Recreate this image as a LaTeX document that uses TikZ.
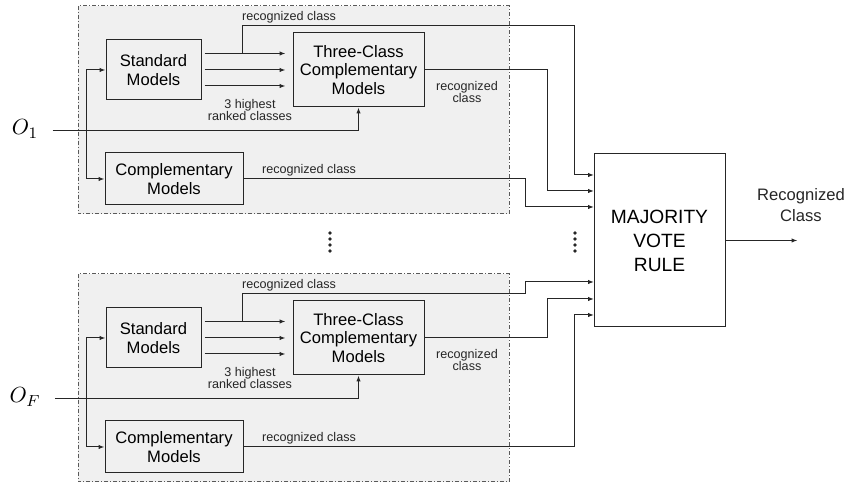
\documentclass[tikz,border=0pt]{standalone}
\usepackage[no-math]{fontspec}
\setmainfont{Liberation Sans}
\usetikzlibrary{arrows.meta}

\begin{document}
\begin{tikzpicture}[x=0.5pt,y=-0.5pt,line width=0.5pt,
  >={Latex[length=3pt,width=2.2pt]},
  model/.style={draw=black!85,align=center,inner sep=0pt,font=\fontsize{8.3}{9.3}\selectfont},
  lbl/.style={align=center,inner sep=0pt,text=black!85,font=\fontsize{6.3}{6.4}\selectfont},
  wire/.style={draw=black!85},
  group/.style={draw=black!65,fill=black!6,dash pattern=on 2pt off 1pt on 0.5pt off 1pt}]
  \useasboundingbox (0,0) rectangle (848,485);
  % majority vote block
  \node[model,minimum width=65.5pt,minimum height=86.5pt,font=\fontsize{9.6}{12}\selectfont]
    (maj) at (659.5,240.5) {MAJORITY\\VOTE\\RULE};
  \node[lbl,font=\fontsize{8.3}{10.5}\selectfont] (out) at (801,205) {Recognized\\Class};
  \draw[wire,->] (maj.east) -- ++(72,0);
  % one block per observation sequence
  \foreach \g/\dy/\obs/\xa/\xc/\ya/\yb/\yc in
    {1/0/O_1/574/525/175/191/207, 2/268/O_F/525/574/282/299/315}
  {
    \draw[group] (78,6+\dy) rectangle (509,214+\dy);
    \node[model,minimum width=47.5pt,minimum height=30pt] (std\g) at (153.5,70+\dy) {Standard\\Models};
    \node[model,minimum width=65.5pt,minimum height=37pt] (tcc\g) at (358.5,70+\dy) {Three-Class\\Complementary\\Models};
    \node[model,minimum width=69pt,minimum height=26pt] (cmp\g) at (174,179+\dy) {Complementary\\Models};
    \node[inner sep=0pt,font=\fontsize{11}{11}\selectfont] (obs\g) at (25,129+\dy) {$\obs$};
    \coordinate (br\g) at (242,53+\dy);
    \coordinate (ina\g) at (594,\ya);
    \coordinate (inb\g) at (594,\yb);
    \coordinate (inc\g) at (594,\yc);
    % three highest ranked classes
    \foreach \s in {-16.5,0,16}
      \draw[wire,->] ([shift={(3,\s)}]std\g.east) -- ([shift={(-7,\s)}]tcc\g.west);
    \draw[wire,<->] (std\g.west) -- ++(-19,0) |- (cmp\g.west);
    \draw[wire,->] ([yshift=-1pt]obs\g.east) ++(14,0) -| (tcc\g.south);
    % recognized classes to the vote
    \draw[wire,->] (br\g) |- (\xa,26+\dy) |- (ina\g);
    \draw[wire,->] (tcc\g.east) -| (547,\yb) -- (inb\g);
    \draw[wire,->] (cmp\g.east) -| (\xc,\yc) -- (inc\g);
    \node[lbl] (rca\g) at (289,17+\dy) {recognized class};
    \node[lbl] (rcb\g) at (467,92+\dy) {recognized\\class};
    \node[lbl] (rcc\g) at (309,170+\dy) {recognized class};
    \node[lbl] (top\g) at (250,110+\dy) {3 highest\\ranked classes};
  }
  % vertical dots
  \foreach \x in {330,575}
    \foreach \y in {233,239,245,251}
      \fill[black!85] (\x,\y) circle (0.9pt);
\end{tikzpicture}
\end{document}
